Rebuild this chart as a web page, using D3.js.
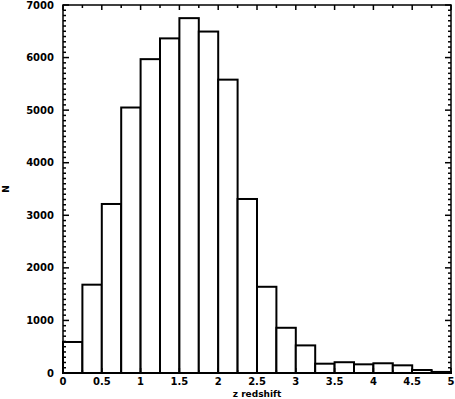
<!DOCTYPE html>
<html>
<head>
<meta charset="utf-8">
<script src="https://cdn.jsdelivr.net/npm/d3@7"></script>
<style>
  body { margin: 0; background: #fff; }
  svg { display: block; }
</style>
</head>
<body>
<svg id="chart"></svg>
<script>
// bin edges (lower) in redshift, width 0.25
const binStart = [0, 0.25, 0.5, 0.75, 1, 1.25, 1.5, 1.75, 2, 2.25,
                  2.5, 2.75, 3, 3.25, 3.5, 3.75, 4, 4.25, 4.5, 4.75];
const counts = [590, 1680, 3215, 5050, 5970, 6365, 6750, 6495, 5580, 3310,
                1640, 860, 525, 177, 205, 165, 185, 146, 57, 20];
const binWidth = 0.25;
const xTicks = [0, 0.5, 1, 1.5, 2, 2.5, 3, 3.5, 4, 4.5, 5];
const yTicks = [0, 1000, 2000, 3000, 4000, 5000, 6000, 7000];

const width = 455, height = 399;
const margin = {top: 5, right: 4, bottom: 26, left: 63};

const svg = d3.select('#chart')
    .attr('width', width)
    .attr('height', height);

const x = d3.scaleLinear().domain([0, 5]).range([margin.left, width - margin.right]);
const y = d3.scaleLinear().domain([0, 7000]).range([height - margin.bottom, margin.top]);

const font = 'DejaVu Sans, sans-serif';

// bars
const data = binStart.map((b, i) => ({x0: b, x1: b + binWidth, n: counts[i]}));
svg.append('g')
    .selectAll('rect')
    .data(data)
    .join('rect')
    .attr('x', d => x(d.x0))
    .attr('y', d => y(d.n))
    .attr('width', d => x(d.x1) - x(d.x0))
    .attr('height', d => y(0) - y(d.n))
    .attr('fill', '#fff')
    .attr('stroke', '#000')
    .attr('stroke-width', 2);

// frame
svg.append('rect')
    .attr('x', x(0)).attr('y', y(7000))
    .attr('width', x(5) - x(0)).attr('height', y(0) - y(7000))
    .attr('fill', 'none')
    .attr('stroke', '#000')
    .attr('stroke-width', 1.5);

// ticks on all four sides
const xMinor = d3.range(0, 5.001, 0.25).filter(v => Math.abs(v * 2 - Math.round(v * 2)) > 1e-6);
const yMinor = d3.range(0, 7001, 100).filter(v => v % 1000 !== 0);
const ticks = svg.append('g').attr('stroke', '#000').attr('stroke-width', 1.5);

function xTick(v, len) {
    ticks.append('line').attr('x1', x(v)).attr('x2', x(v)).attr('y1', y(0)).attr('y2', y(0) - len);
    ticks.append('line').attr('x1', x(v)).attr('x2', x(v)).attr('y1', y(7000)).attr('y2', y(7000) + len);
}
function yTick(v, len) {
    ticks.append('line').attr('y1', y(v)).attr('y2', y(v)).attr('x1', x(0)).attr('x2', x(0) + len);
    ticks.append('line').attr('y1', y(v)).attr('y2', y(v)).attr('x1', x(5)).attr('x2', x(5) - len);
}
xTicks.forEach(v => xTick(v, 5));
xMinor.forEach(v => xTick(v, 3));
yTicks.forEach(v => yTick(v, 6));
yMinor.forEach(v => yTick(v, 3));

// tick labels
svg.append('g')
    .selectAll('text')
    .data(xTicks)
    .join('text')
    .attr('x', d => x(d))
    .attr('y', y(0) + 12)
    .attr('text-anchor', 'middle')
    .style('font-family', font)
    .style('font-weight', 'bold')
    .style('font-size', '10px')
    .text(d => d);

svg.append('g')
    .selectAll('text')
    .data(yTicks)
    .join('text')
    .attr('x', x(0) - 9)
    .attr('y', d => y(d))
    .attr('dy', '0.35em')
    .attr('text-anchor', 'end')
    .style('font-family', font)
    .style('font-weight', 'bold')
    .style('font-size', '10px')
    .text(d => d);

// axis titles
svg.append('text')
    .attr('x', (x(0) + x(5)) / 2)
    .attr('y', 397)
    .attr('text-anchor', 'middle')
    .style('font-family', font)
    .style('font-weight', 'bold')
    .style('font-size', '9px')
    .text('z redshift');

svg.append('text')
    .attr('transform', `translate(9, ${(y(0) + y(7000)) / 2}) rotate(-90)`)
    .attr('text-anchor', 'middle')
    .style('font-family', font)
    .style('font-weight', 'bold')
    .style('font-size', '9px')
    .text('N');
</script>
</body>
</html>
